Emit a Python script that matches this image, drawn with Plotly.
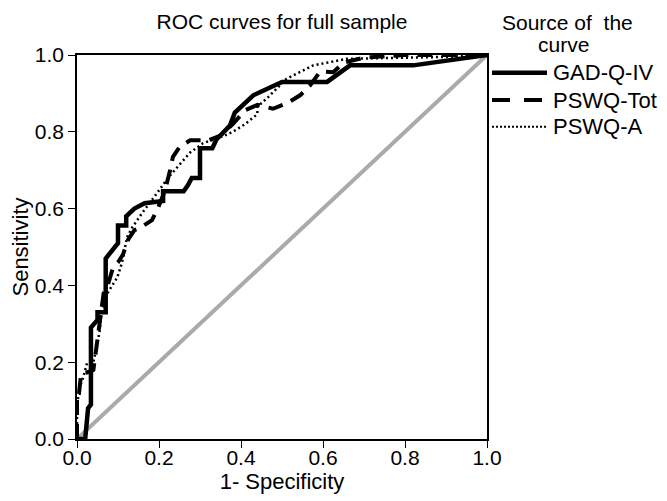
import plotly.graph_objects as go

# ---- data ----
gad_fpr = [0, 0.02, 0.027, 0.034, 0.034, 0.05, 0.05, 0.07, 0.07, 0.1, 0.1, 0.12, 0.12, 0.14,
           0.165, 0.21, 0.21, 0.26, 0.27, 0.28, 0.3, 0.3, 0.33, 0.34, 0.373, 0.385, 0.43,
           0.5, 0.61, 0.666, 0.82, 1.0]
gad_tpr = [0, 0, 0.08, 0.09, 0.29, 0.31, 0.33, 0.33, 0.47, 0.51, 0.556, 0.556, 0.58, 0.6,
           0.614, 0.62, 0.645, 0.645, 0.66, 0.68, 0.68, 0.757, 0.757, 0.78, 0.816, 0.85, 0.895,
           0.93, 0.93, 0.973, 0.973, 1.0]

tot_fpr = [0, 0, 0.005, 0.01, 0.03, 0.04, 0.045, 0.05, 0.055, 0.06, 0.065, 0.075, 0.088, 0.1,
           0.112, 0.125, 0.14, 0.154, 0.17, 0.183, 0.197, 0.215, 0.227, 0.234, 0.25, 0.276,
           0.32, 0.35, 0.38, 0.41, 0.44, 0.478, 0.515, 0.544, 0.568, 0.593, 0.625, 0.65, 0.7,
           0.8, 1.0]
tot_tpr = [0, 0.12, 0.12, 0.17, 0.175, 0.18, 0.22, 0.26, 0.3, 0.33, 0.38, 0.4, 0.447, 0.46,
           0.48, 0.52, 0.544, 0.55, 0.56, 0.57, 0.6, 0.648, 0.70, 0.735, 0.76, 0.778,
           0.778, 0.79, 0.82, 0.856, 0.87, 0.86, 0.876, 0.895, 0.92, 0.957, 0.955, 0.98, 0.993,
           1.0, 1.0]

a_fpr = [0, 0, 0.005, 0.015, 0.025, 0.04, 0.05, 0.055, 0.06, 0.07, 0.08, 0.098, 0.11, 0.122,
         0.134, 0.16, 0.195, 0.222, 0.244, 0.276, 0.307, 0.33, 0.36, 0.38, 0.41, 0.44, 0.44,
         0.466, 0.511, 0.576, 0.658, 0.8, 0.9, 1.0]
a_tpr = [0, 0.08, 0.13, 0.16, 0.2, 0.2, 0.25, 0.28, 0.33, 0.37, 0.39, 0.42, 0.46, 0.525,
         0.55, 0.59, 0.64, 0.68, 0.707, 0.746, 0.77, 0.778, 0.79, 0.8, 0.82, 0.846, 0.865,
         0.89, 0.938, 0.973, 0.99, 0.993, 0.995, 1.0]

ref_x = [0, 1]
ref_y = [0, 1]

tick_vals = [0, 0.2, 0.4, 0.6, 0.8, 1.0]
tick_text = ["0.0", "0.2", "0.4", "0.6", "0.8", "1.0"]

series_names = ["GAD-Q-IV", "PSWQ-Tot", "PSWQ-A"]
legend_title_lines = ["Source of  the", "curve"]

FONT = "Liberation Sans, Arial, Helvetica, sans-serif"
OFF = 8  # page body margin of the html page
W, H = 667 - OFF, 501 - OFF
ML, MR, MT, MB = 77 - OFF, 180, 55 - OFF, 62
PW, PH = W - ML - MR, H - MT - MB


def px_x(p):
    """page pixel x -> paper x"""
    return (p - OFF - ML) / PW


def px_y(p):
    """page pixel y -> paper y"""
    return (H - MB - (p - OFF)) / PH


styles = [dict(color="black", width=4.5),
          dict(color="black", width=4, dash="15px,9px"),
          dict(color="black", width=2.5, dash="2px,3px")]
legend_styles = [dict(color="black", width=4.5),
                 dict(color="black", width=4, dash="18px,14px"),
                 dict(color="black", width=2, dash="2px,2px")]

fig = go.Figure()
fig.add_trace(go.Scatter(x=ref_x, y=ref_y, mode="lines", showlegend=False,
                         line=dict(color="#aaaaaa", width=4), hoverinfo="skip"))
fig.add_trace(go.Scatter(x=a_fpr, y=a_tpr, mode="lines", name=series_names[2],
                         line=styles[2], showlegend=False))
fig.add_trace(go.Scatter(x=tot_fpr, y=tot_tpr, mode="lines", name=series_names[1],
                         line=styles[1], showlegend=False))
fig.add_trace(go.Scatter(x=gad_fpr, y=gad_tpr, mode="lines", name=series_names[0],
                         line=styles[0], showlegend=False))

axis_common = dict(range=[0, 1], tickvals=tick_vals, ticktext=tick_text,
                   ticks="outside", ticklen=7, tickwidth=1, tickcolor="black",
                   showline=True, linecolor="black", linewidth=1.5, mirror=True,
                   showgrid=False, zeroline=False, automargin=False,
                   tickfont=dict(size=21, color="black", family=FONT))

# manual legend (to the right of the plot, as in the reference)
legend_y_px = [72.7, 100, 126.7]
shapes = []
annotations = []
for name, st, yp in zip(series_names, legend_styles, legend_y_px):
    shapes.append(dict(type="line", xref="paper", yref="paper",
                       x0=px_x(492), x1=px_x(547), y0=px_y(yp), y1=px_y(yp), line=st))
    annotations.append(dict(text=name, xref="paper", yref="paper", x=px_x(551), y=px_y(yp),
                            xanchor="left", yanchor="middle", showarrow=False,
                            font=dict(size=22, family=FONT, color="black")))
for line_text, cx, cy in zip(legend_title_lines, [567, 563], [22, 45]):
    annotations.append(dict(text=line_text, xref="paper", yref="paper", x=px_x(cx), y=px_y(cy),
                            xanchor="center", yanchor="middle", showarrow=False,
                            font=dict(size=21, family=FONT, color="black")))

fig.update_layout(
    width=W, height=H,
    margin=dict(l=ML, r=MR, t=MT, b=MB),
    paper_bgcolor="white", plot_bgcolor="white",
    font=dict(family=FONT, color="black", size=21),
    showlegend=False,
    title=dict(text="ROC curves for full sample", x=(282 - OFF) / W, xanchor="center",
               y=1 - (22 - OFF) / H, yanchor="middle", font=dict(size=21, family=FONT)),
    xaxis=dict(title=dict(text="1- Specificity", font=dict(size=22), standoff=2),
               ticklabelstandoff=-8, **axis_common),
    yaxis=dict(title=dict(text="Sensitivity", font=dict(size=22), standoff=0), **axis_common),
    shapes=shapes,
    annotations=annotations,
)

fig.write_html("out.html")
